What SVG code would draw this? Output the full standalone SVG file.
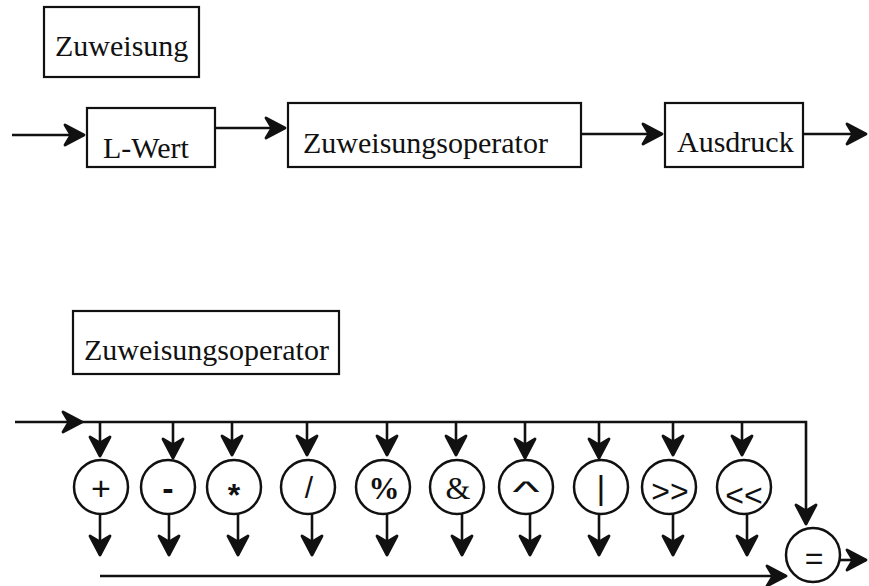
<svg xmlns="http://www.w3.org/2000/svg" width="869" height="586" viewBox="0 0 869 586">
  <defs>
    <style>
      .box { fill: #fff; stroke: #111; stroke-width: 2.2; }
      .op { fill: #fff; stroke: #111; stroke-width: 2.5; }
      .wire { fill: none; stroke: #111; stroke-width: 2.6; }
      .lbl { font-family: "Liberation Serif", "Times New Roman", serif; font-size: 30px; fill: #111; }
      .sym { font-family: "Liberation Sans", Arial, sans-serif; font-size: 32px; fill: #111; text-anchor: middle; }
      .symb { font-family: "Liberation Sans", Arial, sans-serif; font-size: 32px; font-weight: bold; fill: #111; text-anchor: middle; }
      .syms { font-family: "Liberation Serif", "Times New Roman", serif; fill: #111; text-anchor: middle; }
    </style>
    <marker id="arrow" viewBox="-25 -13 28 26" refX="0" refY="0" markerWidth="28" markerHeight="26" markerUnits="userSpaceOnUse" orient="auto">
      <path d="M0,0 L-19,-10 L-13,0 L-19,10 Z" fill="#111" stroke="#111" stroke-width="2.8" stroke-linejoin="round"/>
    </marker>
  </defs>

  <!-- Syntax diagram: Zuweisung -->
  <g id="title-zuweisung">
    <rect class="box" x="44" y="7" width="155" height="70"/>
    <text class="lbl" x="55" y="56">Zuweisung</text>
  </g>
  <g id="lwert">
    <rect class="box" x="87" y="108" width="128" height="59"/>
    <text class="lbl" x="103" y="158">L-Wert</text>
  </g>
  <g id="zuweisungsoperator-ref">
    <rect class="box" x="288" y="103" width="293" height="64"/>
    <text class="lbl" x="303" y="153">Zuweisungsoperator</text>
  </g>
  <g id="ausdruck">
    <rect class="box" x="665" y="103" width="138" height="64"/>
    <text class="lbl" x="677" y="152">Ausdruck</text>
  </g>

  <!-- Syntax diagram: Zuweisungsoperator -->
  <g id="title-zuweisungsoperator">
    <rect class="box" x="73" y="311" width="266" height="63"/>
    <text class="lbl" x="84" y="360">Zuweisungsoperator</text>
  </g>

  <g id="op-plus"><circle class="op" cx="101" cy="487" r="27"/><text class="sym" x="101" y="500" style="font-size:34px">+</text></g>
  <g id="op-minus"><circle class="op" cx="168" cy="487" r="27"/><text class="symb" x="168" y="500" style="font-size:34px">-</text></g>
  <g id="op-mul"><circle class="op" cx="234" cy="487" r="27"/><text class="symb" x="234" y="506" style="font-size:32px">*</text></g>
  <g id="op-div"><circle class="op" cx="308" cy="487" r="27"/><text class="sym" x="309" y="498" style="font-size:30px">/</text></g>
  <g id="op-mod"><circle class="op" cx="383" cy="487" r="27"/><text class="syms" x="384" y="499" style="font-size:31px;font-weight:bold">%</text></g>
  <g id="op-and"><circle class="op" cx="457" cy="487" r="27"/><text class="syms" x="458" y="499" style="font-size:32px">&amp;</text></g>
  <g id="op-xor"><circle class="op" cx="526" cy="487" r="27"/><text class="sym" transform="translate(526 502) scale(1.8 0.9)" x="0" y="0" style="font-size:32px">^</text></g>
  <g id="op-or"><circle class="op" cx="601" cy="487" r="27"/><text class="sym" x="601" y="499" style="font-size:34px">|</text></g>
  <g id="op-shr"><circle class="op" cx="669" cy="487" r="27"/><text class="sym" x="670" y="502">&gt;&gt;</text></g>
  <g id="op-shl"><circle class="op" cx="744" cy="487" r="27"/><text class="sym" x="744" y="506">&lt;&lt;</text></g>
  <g id="op-assign"><circle class="op" cx="813" cy="555" r="27"/><text class="sym" x="814" y="569">=</text></g>

  <!-- Connectors -->
  <g id="connectors" class="wire">
    <line x1="12" y1="135" x2="84" y2="135" marker-end="url(#arrow)"/>
    <line x1="215" y1="128" x2="285" y2="128" marker-end="url(#arrow)"/>
    <line x1="581" y1="134" x2="662" y2="134" marker-end="url(#arrow)"/>
    <line x1="803" y1="134" x2="866" y2="134" marker-end="url(#arrow)"/>

    <line x1="15" y1="422" x2="82" y2="422" marker-end="url(#arrow)"/>
    <polyline points="82,422 806,422 806,524" marker-end="url(#arrow)"/>

    <line x1="100" y1="422" x2="100" y2="456" marker-end="url(#arrow)"/>
    <line x1="173" y1="422" x2="173" y2="458" marker-end="url(#arrow)"/>
    <line x1="232" y1="422" x2="232" y2="455" marker-end="url(#arrow)"/>
    <line x1="307" y1="422" x2="307" y2="455" marker-end="url(#arrow)"/>
    <line x1="387" y1="422" x2="387" y2="455" marker-end="url(#arrow)"/>
    <line x1="456" y1="422" x2="456" y2="455" marker-end="url(#arrow)"/>
    <line x1="525" y1="422" x2="525" y2="458" marker-end="url(#arrow)"/>
    <line x1="599" y1="422" x2="599" y2="458" marker-end="url(#arrow)"/>
    <line x1="673" y1="422" x2="673" y2="455" marker-end="url(#arrow)"/>
    <line x1="742" y1="422" x2="742" y2="455" marker-end="url(#arrow)"/>

    <line x1="100" y1="514" x2="100" y2="555" marker-end="url(#arrow)"/>
    <line x1="169" y1="514" x2="169" y2="555" marker-end="url(#arrow)"/>
    <line x1="238" y1="514" x2="238" y2="555" marker-end="url(#arrow)"/>
    <line x1="312" y1="514" x2="312" y2="555" marker-end="url(#arrow)"/>
    <line x1="387" y1="514" x2="387" y2="555" marker-end="url(#arrow)"/>
    <line x1="462" y1="514" x2="462" y2="555" marker-end="url(#arrow)"/>
    <line x1="530" y1="514" x2="530" y2="555" marker-end="url(#arrow)"/>
    <line x1="599" y1="514" x2="599" y2="555" marker-end="url(#arrow)"/>
    <line x1="673" y1="514" x2="673" y2="555" marker-end="url(#arrow)"/>
    <line x1="747" y1="514" x2="747" y2="555" marker-end="url(#arrow)"/>

    <line x1="100" y1="576" x2="786" y2="576" marker-end="url(#arrow)"/>
    <line x1="840" y1="560" x2="866" y2="560" marker-end="url(#arrow)"/>
  </g>
</svg>
